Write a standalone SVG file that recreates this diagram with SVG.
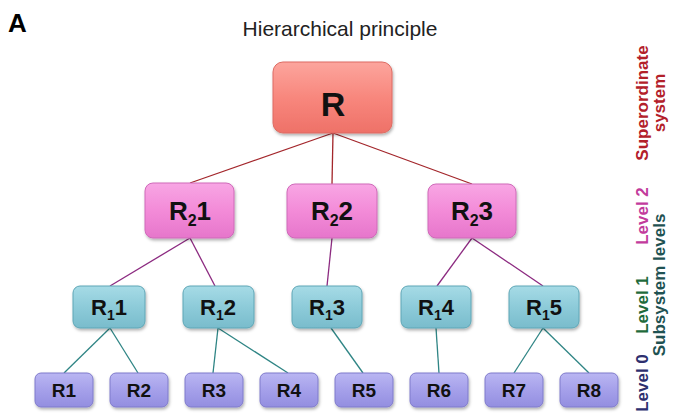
<svg xmlns="http://www.w3.org/2000/svg" width="678" height="414" viewBox="0 0 678 414">
  <defs>
    <linearGradient id="gR" x1="0" y1="0" x2="0" y2="1">
      <stop offset="0" stop-color="#fca59d"/>
      <stop offset="0.5" stop-color="#f8877d"/>
      <stop offset="1" stop-color="#ee7168"/>
    </linearGradient>
    <linearGradient id="g2" x1="0" y1="0" x2="0" y2="1">
      <stop offset="0" stop-color="#f8a6e4"/>
      <stop offset="0.5" stop-color="#f38bd8"/>
      <stop offset="1" stop-color="#e676cb"/>
    </linearGradient>
    <linearGradient id="g1" x1="0" y1="0" x2="0" y2="1">
      <stop offset="0" stop-color="#a6dbe6"/>
      <stop offset="0.5" stop-color="#8dcbd9"/>
      <stop offset="1" stop-color="#79bccc"/>
    </linearGradient>
    <linearGradient id="g0" x1="0" y1="0" x2="0" y2="1">
      <stop offset="0" stop-color="#bab6f2"/>
      <stop offset="0.5" stop-color="#a5a0ea"/>
      <stop offset="1" stop-color="#938ee0"/>
    </linearGradient>
    <filter id="shadow" x="-10%" y="-10%" width="125%" height="135%">
      <feDropShadow dx="1" dy="2" stdDeviation="1.5" flood-color="#000" flood-opacity="0.3"/>
    </filter>
  </defs>
  <style>
    .lbl { font-family: "Liberation Sans", Arial, sans-serif; font-weight: bold; fill: #111; text-anchor: middle; }
    .side { font-family: "Liberation Sans", Arial, sans-serif; font-weight: bold; font-size: 17px; text-anchor: middle; }
    .nR { fill: url(#gR); stroke: #dd6b62; stroke-width: 1; filter: url(#shadow); }
    .n2 { fill: url(#g2); stroke: #cf6ab9; stroke-width: 1; filter: url(#shadow); }
    .n1 { fill: url(#g1); stroke: #5ea6b6; stroke-width: 1; filter: url(#shadow); }
    .n0 { fill: url(#g0); stroke: #7f7acb; stroke-width: 1; filter: url(#shadow); }
    .cR { stroke: #a3262b; stroke-width: 1.3; fill: none; }
    .c2 { stroke: #8c2a80; stroke-width: 1.3; fill: none; }
    .c1 { stroke: #2f8585; stroke-width: 1.3; fill: none; }
  </style>

  <rect width="678" height="414" fill="#ffffff"/>

  <!-- panel letter and title -->
  <text x="8" y="32" font-family="Liberation Sans, Arial, sans-serif" font-weight="bold" font-size="26" fill="#000">A</text>
  <text x="340" y="36" font-family="Liberation Sans, Arial, sans-serif" font-size="21" fill="#222" text-anchor="middle">Hierarchical principle</text>

  <!-- connectors -->
  <g id="connectors">
    <line class="cR" x1="333" y1="133" x2="190" y2="183"/>
    <line class="cR" x1="333" y1="133" x2="332" y2="184"/>
    <line class="cR" x1="333" y1="133" x2="472" y2="184"/>

    <line class="c2" x1="190" y1="238" x2="110" y2="286"/>
    <line class="c2" x1="190" y1="238" x2="215" y2="286"/>
    <line class="c2" x1="332" y1="238" x2="327" y2="286"/>
    <line class="c2" x1="472" y1="238" x2="437" y2="286"/>
    <line class="c2" x1="472" y1="238" x2="543" y2="286"/>

    <line class="c1" x1="110" y1="328" x2="64" y2="373"/>
    <line class="c1" x1="110" y1="328" x2="138" y2="373"/>
    <line class="c1" x1="218" y1="328" x2="213" y2="373"/>
    <line class="c1" x1="218" y1="328" x2="288" y2="373"/>
    <line class="c1" x1="331" y1="328" x2="363" y2="373"/>
    <line class="c1" x1="436" y1="328" x2="439" y2="373"/>
    <line class="c1" x1="543" y1="328" x2="514" y2="373"/>
    <line class="c1" x1="543" y1="328" x2="589" y2="373"/>
  </g>

  <!-- superordinate system -->
  <g id="R">
    <rect class="nR" x="273" y="62" width="119" height="71" rx="10"/>
    <text class="lbl" x="333" y="116" font-size="34">R</text>
  </g>

  <!-- level 2 -->
  <g id="R2-1">
    <rect class="n2" x="145" y="183" width="89" height="55" rx="8"/>
    <text class="lbl" x="190" y="220" font-size="26">R<tspan font-size="16" dy="6">2</tspan><tspan dy="-6">1</tspan></text>
  </g>
  <g id="R2-2">
    <rect class="n2" x="287" y="184" width="90" height="54" rx="8"/>
    <text class="lbl" x="332" y="220" font-size="26">R<tspan font-size="16" dy="6">2</tspan><tspan dy="-6">2</tspan></text>
  </g>
  <g id="R2-3">
    <rect class="n2" x="428" y="184" width="88" height="54" rx="8"/>
    <text class="lbl" x="472" y="220" font-size="26">R<tspan font-size="16" dy="6">2</tspan><tspan dy="-6">3</tspan></text>
  </g>

  <!-- level 1 -->
  <g id="R1-1">
    <rect class="n1" x="73" y="286" width="72" height="42" rx="7"/>
    <text class="lbl" x="109" y="315" font-size="22">R<tspan font-size="14" dy="5">1</tspan><tspan dy="-5">1</tspan></text>
  </g>
  <g id="R1-2">
    <rect class="n1" x="183" y="286" width="71" height="42" rx="7"/>
    <text class="lbl" x="218" y="315" font-size="22">R<tspan font-size="14" dy="5">1</tspan><tspan dy="-5">2</tspan></text>
  </g>
  <g id="R1-3">
    <rect class="n1" x="292" y="286" width="70" height="42" rx="7"/>
    <text class="lbl" x="327" y="315" font-size="22">R<tspan font-size="14" dy="5">1</tspan><tspan dy="-5">3</tspan></text>
  </g>
  <g id="R1-4">
    <rect class="n1" x="401" y="286" width="70" height="42" rx="7"/>
    <text class="lbl" x="436" y="315" font-size="22">R<tspan font-size="14" dy="5">1</tspan><tspan dy="-5">4</tspan></text>
  </g>
  <g id="R1-5">
    <rect class="n1" x="509" y="286" width="70" height="42" rx="7"/>
    <text class="lbl" x="544" y="315" font-size="22">R<tspan font-size="14" dy="5">1</tspan><tspan dy="-5">5</tspan></text>
  </g>

  <!-- level 0 -->
  <g id="R1">
    <rect class="n0" x="35" y="373" width="58" height="34" rx="6"/>
    <text class="lbl" x="64" y="397" font-size="19">R1</text>
  </g>
  <g id="R2">
    <rect class="n0" x="110" y="373" width="58" height="34" rx="6"/>
    <text class="lbl" x="139" y="397" font-size="19">R2</text>
  </g>
  <g id="R3">
    <rect class="n0" x="185" y="373" width="58" height="34" rx="6"/>
    <text class="lbl" x="214" y="397" font-size="19">R3</text>
  </g>
  <g id="R4">
    <rect class="n0" x="260" y="373" width="58" height="34" rx="6"/>
    <text class="lbl" x="289" y="397" font-size="19">R4</text>
  </g>
  <g id="R5">
    <rect class="n0" x="335" y="373" width="58" height="34" rx="6"/>
    <text class="lbl" x="364" y="397" font-size="19">R5</text>
  </g>
  <g id="R6">
    <rect class="n0" x="410" y="373" width="58" height="34" rx="6"/>
    <text class="lbl" x="439" y="397" font-size="19">R6</text>
  </g>
  <g id="R7">
    <rect class="n0" x="485" y="373" width="58" height="34" rx="6"/>
    <text class="lbl" x="514" y="397" font-size="19">R7</text>
  </g>
  <g id="R8">
    <rect class="n0" x="560" y="373" width="58" height="34" rx="6"/>
    <text class="lbl" x="589" y="397" font-size="19">R8</text>
  </g>

  <!-- level captions on the right -->
  <g id="captions">
    <text class="side" fill="#b3202a" transform="translate(648,103) rotate(-90)">Superordinate</text>
    <text class="side" fill="#b3202a" transform="translate(665,103) rotate(-90)">system</text>
    <text class="side" fill="#c23b9c" transform="translate(648,216) rotate(-90)">Level 2</text>
    <text class="side" fill="#1f6b3c" transform="translate(648,305) rotate(-90)">Level 1</text>
    <text class="side" fill="#2d2f6e" transform="translate(648,383) rotate(-90)">Level 0</text>
    <text class="side" fill="#1f5252" transform="translate(665,285) rotate(-90)">Subsystem levels</text>
  </g>
</svg>
